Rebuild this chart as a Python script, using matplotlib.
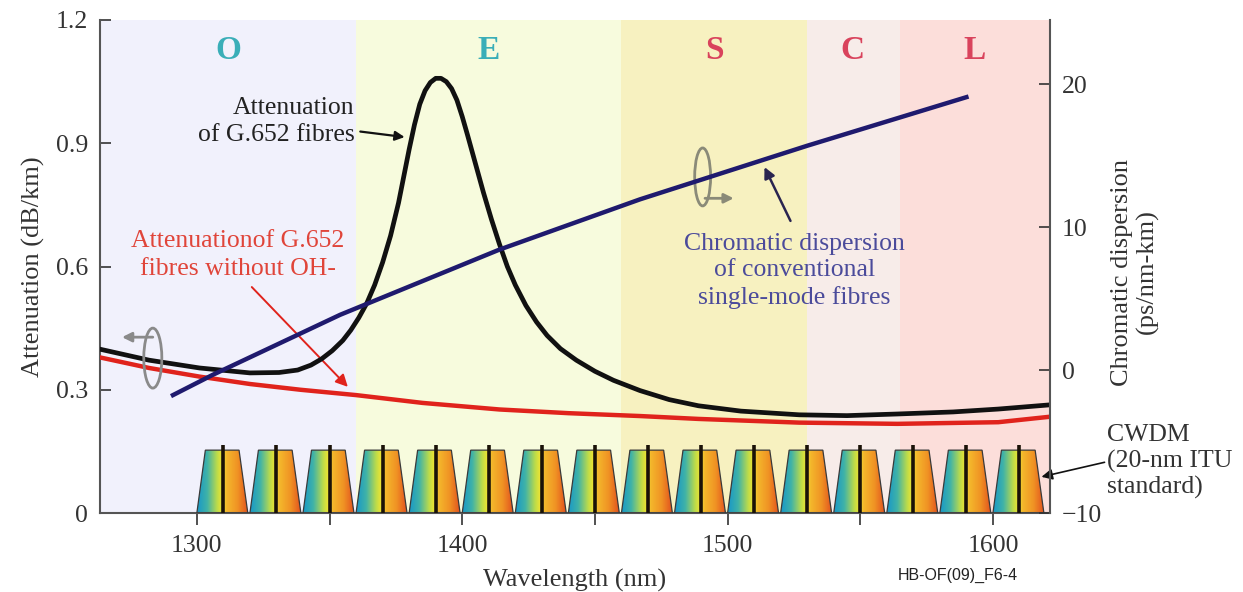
import matplotlib
matplotlib.use("Agg")
import matplotlib.pyplot as plt
import numpy as np
from matplotlib.patches import Polygon, Ellipse
from matplotlib.colors import LinearSegmentedColormap

plt.rcParams['font.family'] = ['Liberation Serif', 'DejaVu Serif']

# bands (nm)
band_names = ['O', 'E', 'S', 'C', 'L']
band_edges = [1260, 1360, 1460, 1530, 1565, 1625]
band_colors = ['#f1f1fc', '#f7fbdd', '#f7f1c0', '#f7ece9', '#fcdeda']
band_label_colors = ['#3aaeb8', '#3aaeb8', '#d9435c', '#d9435c', '#d9435c']
band_label_x = [1312, 1410, 1495, 1547, 1593]

# attenuation of G.652 fibres (dB/km)
att_wl = [1264, 1282, 1301, 1320, 1331, 1338, 1343, 1347, 1351, 1355, 1358,
          1361, 1364, 1367, 1370, 1373, 1376, 1378, 1380, 1382, 1384, 1386,
          1388, 1390, 1392, 1394, 1396, 1398, 1400, 1402, 1405, 1408, 1411,
          1414, 1417, 1420, 1424, 1428, 1432, 1437, 1443, 1450, 1457, 1467,
          1478, 1489, 1505, 1527, 1545, 1564, 1585, 1602, 1621]
att_db = [0.398, 0.372, 0.353, 0.341, 0.342, 0.348, 0.360, 0.375, 0.395, 0.42,
          0.445, 0.475, 0.51, 0.555, 0.61, 0.675, 0.755, 0.82, 0.885, 0.945,
          0.995, 1.028, 1.048, 1.058, 1.058, 1.05, 1.033, 1.005, 0.965, 0.92,
          0.85, 0.78, 0.715, 0.655, 0.6, 0.555, 0.505, 0.465, 0.432, 0.40,
          0.372, 0.345, 0.323, 0.298, 0.276, 0.261, 0.248, 0.239, 0.237,
          0.241, 0.246, 0.253, 0.263]

# attenuation without OH- peak (dB/km)
low_wl = [1264, 1282, 1301, 1320, 1339, 1360, 1385, 1414, 1440, 1467, 1489,
          1527, 1564, 1602, 1621]
low_db = [0.378, 0.353, 0.332, 0.314, 0.300, 0.287, 0.268, 0.252, 0.243,
          0.236, 0.229, 0.220, 0.217, 0.221, 0.234]

# chromatic dispersion (ps/nm-km)
disp_wl = [1291, 1306, 1354, 1414, 1467, 1530, 1590]
disp_val = [-1.75, -0.33, 3.87, 8.43, 11.95, 15.7, 19.1]

# CWDM channels
cwdm_centers = list(range(1310, 1611, 20))

fig = plt.figure(figsize=(12.43, 5.92), dpi=100)
ax = fig.add_axes([100 / 1243, 1 - 513 / 592, 950 / 1243, 493 / 592])

for i, name in enumerate(band_names):
    ax.axvspan(band_edges[i], band_edges[i + 1], color=band_colors[i], lw=0, zorder=0)
    ax.text(band_label_x[i], 1.125, name, color=band_label_colors[i], fontsize=24,
            fontweight='bold', ha='center', va='center')

# CWDM gradient trapezoids
cmap = LinearSegmentedColormap.from_list('cwdm', [
    (0.0, '#1898c8'), (0.2, '#3fb2a8'), (0.4, '#bfdc48'), (0.5, '#f0e432'),
    (0.58, '#f4b82c'), (0.8, '#f09224'), (1.0, '#e2521e')])
grad = np.linspace(0, 1, 256).reshape(1, -1)
top = 0.153
for c in cwdm_centers:
    xs = [c - 10, c - 6.8, c + 5.9, c + 9.2]
    poly = Polygon([(xs[0], 0), (xs[1], top), (xs[2], top), (xs[3], 0)],
                   closed=True, facecolor='none', edgecolor='#3a3a3a', lw=0.9, zorder=3)
    ax.add_patch(poly)
    im = ax.imshow(grad, cmap=cmap, extent=[xs[0], xs[3], 0, top], aspect='auto',
                   origin='lower', zorder=2, interpolation='bicubic')
    im.set_clip_path(poly)
    ax.plot([c, c], [0, 0.165], color='#1a1208', lw=2.6, zorder=4, solid_capstyle='butt')

ax.plot(low_wl, low_db, color='#e0231c', lw=3.2, zorder=5, solid_joinstyle='round')
ax.plot(att_wl, att_db, color='#111111', lw=3.4, zorder=6, solid_joinstyle='round')

ax.set_xlim(1263.5, 1621.5)
ax.set_ylim(0, 1.2)
ax.set_yticks([0, 0.3, 0.6, 0.9, 1.2])
ax.set_yticklabels(['0', '0.3', '0.6', '0.9', '1.2'])
ax.set_xticks([1300, 1400, 1500, 1600])
ax.set_xticks([1350, 1450, 1550], minor=True)
ax.tick_params(axis='y', direction='in', length=8, width=1.2, pad=8.5, labelsize=18.5, colors='#333333')
ax.tick_params(axis='x', which='both', direction='out', length=8.5, width=1.2, pad=7,
               labelsize=18.5, colors='#333333')
for s in ['top', 'right']:
    ax.spines[s].set_visible(False)
for s in ['left', 'bottom']:
    ax.spines[s].set_color('#555555')
    ax.spines[s].set_linewidth(1.5)
ax.set_xlabel('Wavelength (nm)', fontsize=19, color='#333333', labelpad=9)
ax.set_ylabel('Attenuation (dB/km)', fontsize=19, color='#333333', labelpad=8)

ax2 = ax.twinx()
ax2.plot(disp_wl, disp_val, color='#1f1a6e', lw=3.2, zorder=5, solid_joinstyle='round')
ax2.set_ylim(-10, 24.5)
ax2.set_yticks([-10, 0, 10, 20])
ax2.set_yticklabels(['\u221210', '0', '10', '20'])
ax2.tick_params(axis='y', direction='in', length=8, width=1.2, pad=8.5, labelsize=18.5, colors='#333333')
for s in ['top', 'left', 'bottom']:
    ax2.spines[s].set_visible(False)
ax2.spines['right'].set_color('#555555')
ax2.spines['right'].set_linewidth(1.5)

# annotations
ax.annotate('Attenuation\nof G.652 fibres', xy=(1378.3, 0.915), xytext=(1359.5, 0.954),
            ha='right', va='center', fontsize=18.5, color='#222222', linespacing=1.3,
            arrowprops=dict(arrowstyle='-|>', color='#111111', lw=1.6, mutation_scale=14,
                            shrinkA=2, shrinkB=0))
ax.annotate('Attenuationof G.652\nfibres without OH-', xy=(1356.9, 0.307), xytext=(1315.4, 0.628),
            ha='center', va='center', fontsize=18.5, color='#e0453a', linespacing=1.3)
ax.annotate('', xy=(1356.9, 0.307), xytext=(1320.7, 0.55),
            arrowprops=dict(arrowstyle='-|>', color='#e0231c', lw=1.4, mutation_scale=18,
                            shrinkA=0, shrinkB=0))
ax.annotate('Chromatic dispersion\nof conventional\nsingle-mode fibres', xy=(1525.2, 0.589),
            ha='center', va='center', fontsize=18.5, color='#4b4b9b', linespacing=1.25, zorder=7)
ax.annotate('', xy=(1513.9, 0.842), xytext=(1523.7, 0.711),
            arrowprops=dict(arrowstyle='-|>', color='#2a2550', lw=1.8, mutation_scale=16,
                            shrinkA=0, shrinkB=0), zorder=7)

# axis indicator ellipses
ax.add_patch(Ellipse((1283.4, 0.377), 6.8, 0.146, fill=False, edgecolor='#8a8a8a', lw=2, zorder=7))
ax.annotate('', xy=(1271.8, 0.428), xytext=(1283.4, 0.428),
            arrowprops=dict(arrowstyle='-|>', color='#8a8a8a', lw=2, mutation_scale=14,
                            shrinkA=0, shrinkB=0), zorder=7)
ax.add_patch(Ellipse((1490.6, 0.818), 6.0, 0.141, fill=False, edgecolor='#8a8a78', lw=2, zorder=7))
ax.annotate('', xy=(1502.3, 0.766), xytext=(1491.5, 0.766),
            arrowprops=dict(arrowstyle='-|>', color='#8a8a78', lw=2, mutation_scale=14,
                            shrinkA=0, shrinkB=0), zorder=7)

ax.annotate('CWDM\n(20-nm ITU\nstandard)', xy=(1618.3, 0.088), xytext=(1643.1, 0.125),
            ha='left', va='center', fontsize=18.5, color='#333333', linespacing=1.2,
            annotation_clip=False,
            arrowprops=dict(arrowstyle='-|>', color='#111111', lw=1.2, mutation_scale=16,
                            shrinkA=0, shrinkB=0, relpos=(0, 0.5)))

fig.text(1135 / 1243, 1 - 272 / 592, 'Chromatic dispersion\n(ps/nm-km)', rotation=90,
         ha='center', va='center', fontsize=19, color='#333333', multialignment='center',
         linespacing=1.15)
fig.text(958 / 1243, 1 - 575 / 592, 'HB-OF(09)_F6-4', ha='center', va='center',
         fontsize=11.5, family='Liberation Sans', color='#222222')

fig.savefig('out.png', dpi=100)
